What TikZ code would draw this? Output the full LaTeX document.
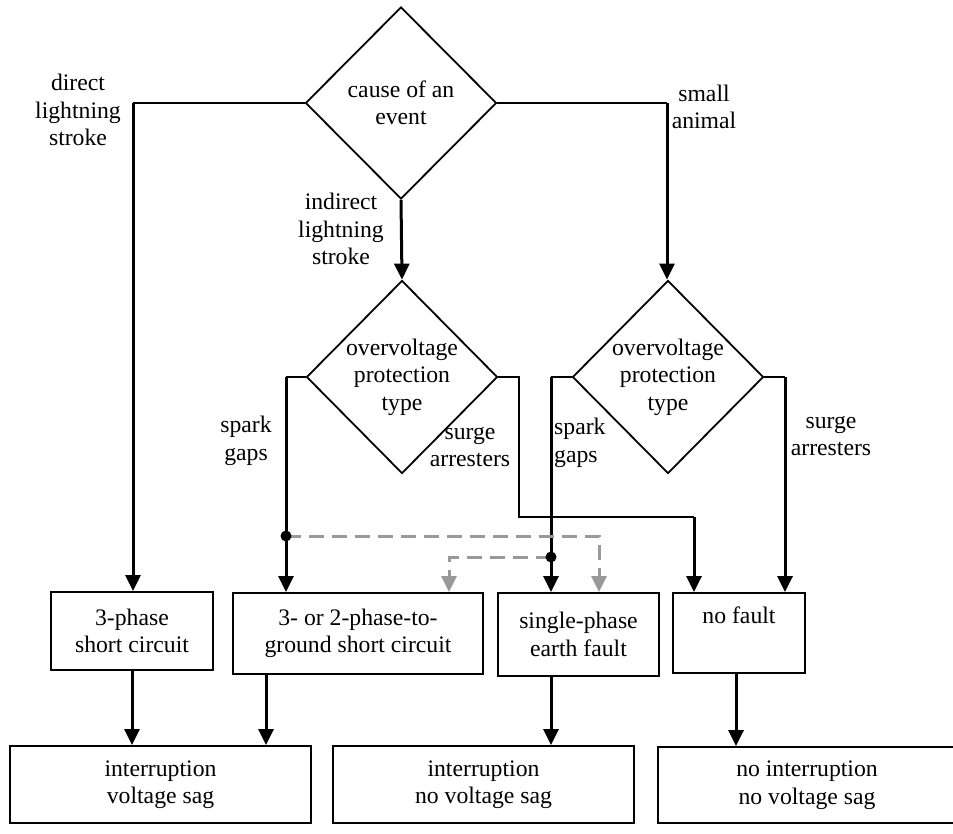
\documentclass[tikz,border=0pt]{standalone}
\usepackage{fontspec}
\setmainfont{Liberation Serif}
\usetikzlibrary{shapes.geometric,arrows.meta}
\begin{document}
\begin{tikzpicture}[x=1pt,y=-1pt,
  every node/.style={font=\fontsize{23.7}{27.5}\selectfont, align=center, inner sep=0pt},
  box/.style={draw, line width=1.8pt, rectangle, inner sep=0pt},
  dia/.style={draw, line width=1.8pt, diamond, aspect=1, inner sep=0pt},
  conn/.style={line width=2pt},
  arr/.style={line width=3pt, -{Triangle[length=16pt,width=15pt]}},
  garr/.style={line width=3pt, color=black!40, dash pattern=on 15pt off 8pt, -{Triangle[length=16pt,width=15pt]}},
  jdot/.style={circle, fill=black, draw=none, inner sep=0pt, minimum size=11pt},
  lbl/.style={}]
\useasboundingbox (0,0) rectangle (953,833);

% decisions
\node[dia, minimum width=191pt, minimum height=192pt] (d1) at (401,103) {cause of an\\event};
\node[dia, minimum width=191pt, minimum height=193pt] (d2) at (402,377) {overvoltage\\protection\\type};
\node[dia, minimum width=191pt, minimum height=193pt] (d3) at (668,377) {overvoltage\\protection\\type};

% fault boxes
\node[box, minimum width=162pt, minimum height=78pt] (b3ph) at (132,631) {3-phase\\short circuit};
\node[box, minimum width=250pt, minimum height=81pt] (b32) at (358,633.5) {3- or 2-phase-to-\\ground short circuit};
\node[box, minimum width=161pt, minimum height=83pt] (bsp) at (578.5,634.5) {single-phase\\earth fault};
\node[box, minimum width=132pt, minimum height=80pt] (bnf) at (739,633) {no fault\\\strut};

% result boxes
\node[box, minimum width=301pt, minimum height=77pt] (r1) at (160.5,784.5) {interruption\\voltage sag};
\node[box, minimum width=301pt, minimum height=77pt] (r2) at (483.5,784.5) {interruption\\no voltage sag};
\node[box, minimum width=312pt, minimum height=76pt] (r3) at (814,785) {};
\node (r3t) at (807,785) {no interruption\\no voltage sag};

% labels
\node[lbl] (ldir) at (78,110) {direct\\lightning\\stroke};
\node[lbl] (lind) at (341,229) {indirect\\lightning\\stroke};
\node[lbl] (lsa) at (704,107) {small\\animal};
\node[lbl] (lsg1) at (246,441) {spark\\gaps};
\node[lbl] (lsu1) at (470,447) {surge\\arresters};
\node[lbl, anchor=west, align=left] (lsg2) at (554,443) {spark\\gaps};
\node[lbl] (lsu2) at (831,436) {surge\\arresters};

% corner coordinates
\coordinate (c1) at (133,103);
\coordinate (c2) at (667,103);
\coordinate (s1) at (286,377);
\coordinate (s2) at (519,377);
\coordinate (s2b) at (519,517);
\coordinate (s2c) at (694,517);
\coordinate (s3) at (551,377);
\coordinate (s4) at (785,377);
\coordinate (jc1) at (286,536);
\coordinate (jc2) at (551,557);
\coordinate (g1) at (599,536);
\coordinate (g2) at (449,557);
\coordinate (o32) at (266,674);
\coordinate (onf) at (736,673);

% cause of an event
\draw[conn] (d1.west) -- (c1);
\draw[arr] (c1) -- (c1 |- b3ph.north);
\draw[arr] (d1.south) -- (d2.north);
\draw[conn] (d1.east) -- (c2);
\draw[arr] (c2) -- (c2 |- d3.north);

% middle protection
\draw[conn] (d2.west) -- (s1);
\draw[arr] (s1) -- (s1 |- b32.north);
\draw[conn] (d2.east) -- (s2) -- (s2b) -- (s2c);
\draw[arr] (s2c) -- (s2c |- bnf.north);

% right protection
\draw[conn] (d3.west) -- (s3);
\draw[arr] (s3) -- (s3 |- bsp.north);
\draw[conn] (d3.east) -- (s4);
\draw[arr] (s4) -- (s4 |- bnf.north);

% dashed alternatives
\draw[garr] (jc1) -- (g1) -- (g1 |- bsp.north);
\draw[garr] (jc2) -- (g2) -- (g2 |- b32.north);
\node[jdot] (j1) at (jc1) {};
\node[jdot] (j2) at (jc2) {};

% to results
\draw[arr] (b3ph.south) -- (b3ph.south |- r1.north);
\draw[arr] (o32) -- (o32 |- r1.north);
\draw[arr] (bsp.south -| s3) -- (s3 |- r2.north);
\draw[arr] (onf) -- (onf |- r3.north);
\end{tikzpicture}
\end{document}
